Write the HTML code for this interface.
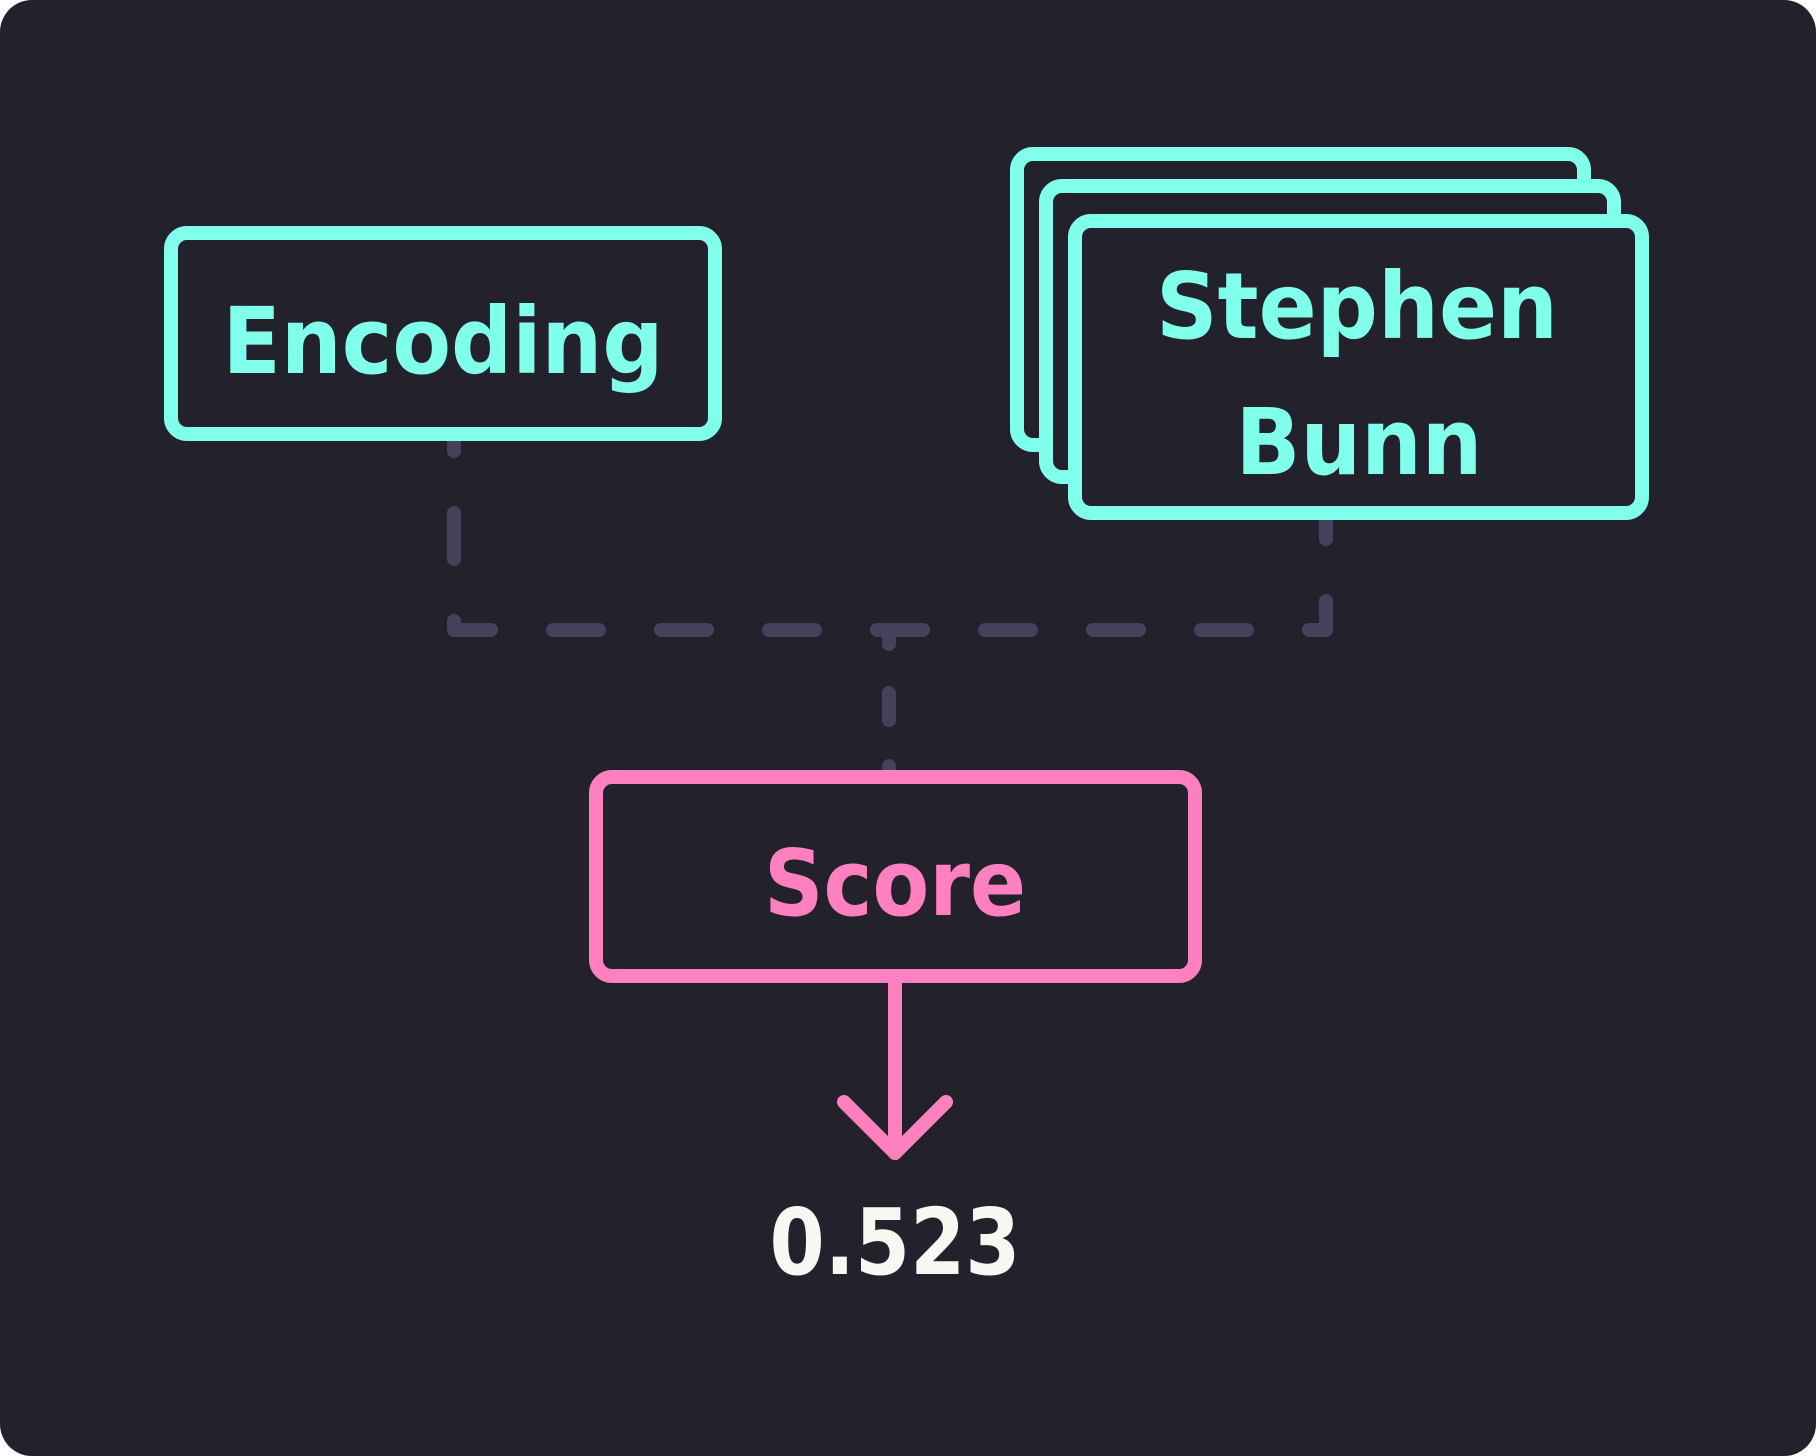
<!DOCTYPE html>
<html><head><style>
html,body{margin:0;padding:0;background:#fff;}
svg{display:block}
text{font-family:"DejaVu Sans","Liberation Sans",sans-serif;font-weight:bold;text-anchor:middle}
</style></head><body>
<svg width="1816" height="1456" viewBox="0 0 1816 1456">
<rect x="0" y="0" width="1816" height="1456" rx="32" fill="#22212c"/>
<g fill="none" stroke="#45415a" stroke-width="14" stroke-linecap="round" stroke-linejoin="round">
<path d="M1326 513 V630 H454 V434" stroke-dasharray="46 62" stroke-dashoffset="20"/>
<path d="M889 630 V770" stroke-dasharray="14 49 27 46 20 40"/>
</g>
<g fill="#22212c" stroke="#80ffea" stroke-width="14">
<rect x="171" y="233" width="544" height="201" rx="16"/>
<rect x="1017" y="154" width="567" height="291" rx="16"/>
<rect x="1046" y="186" width="568" height="291" rx="16"/>
<rect x="1075" y="221" width="567" height="292" rx="16"/>
</g>
<g fill="#80ffea">
<text x="443" y="373" font-size="92" textLength="441" lengthAdjust="spacingAndGlyphs">Encoding</text>
<text x="1357" y="338" font-size="92" textLength="402" lengthAdjust="spacingAndGlyphs">Stephen</text>
<text x="1359" y="474" font-size="92" textLength="247" lengthAdjust="spacingAndGlyphs">Bunn</text>
</g>
<rect x="596" y="777" width="599" height="199" rx="16" fill="#22212c" stroke="#ff80bf" stroke-width="14"/>
<text x="895" y="915" font-size="92" fill="#ff80bf" textLength="262" lengthAdjust="spacingAndGlyphs">Score</text>
<g fill="none" stroke="#ff80bf" stroke-width="14" stroke-linecap="round" stroke-linejoin="round">
<path d="M895 976 V1153"/>
<path d="M844 1102 L895 1153 L946 1102"/>
</g>
<text x="895" y="1274" font-size="92" fill="#f8f8f2" textLength="251" lengthAdjust="spacingAndGlyphs">0.523</text>
</svg>
</body></html>
